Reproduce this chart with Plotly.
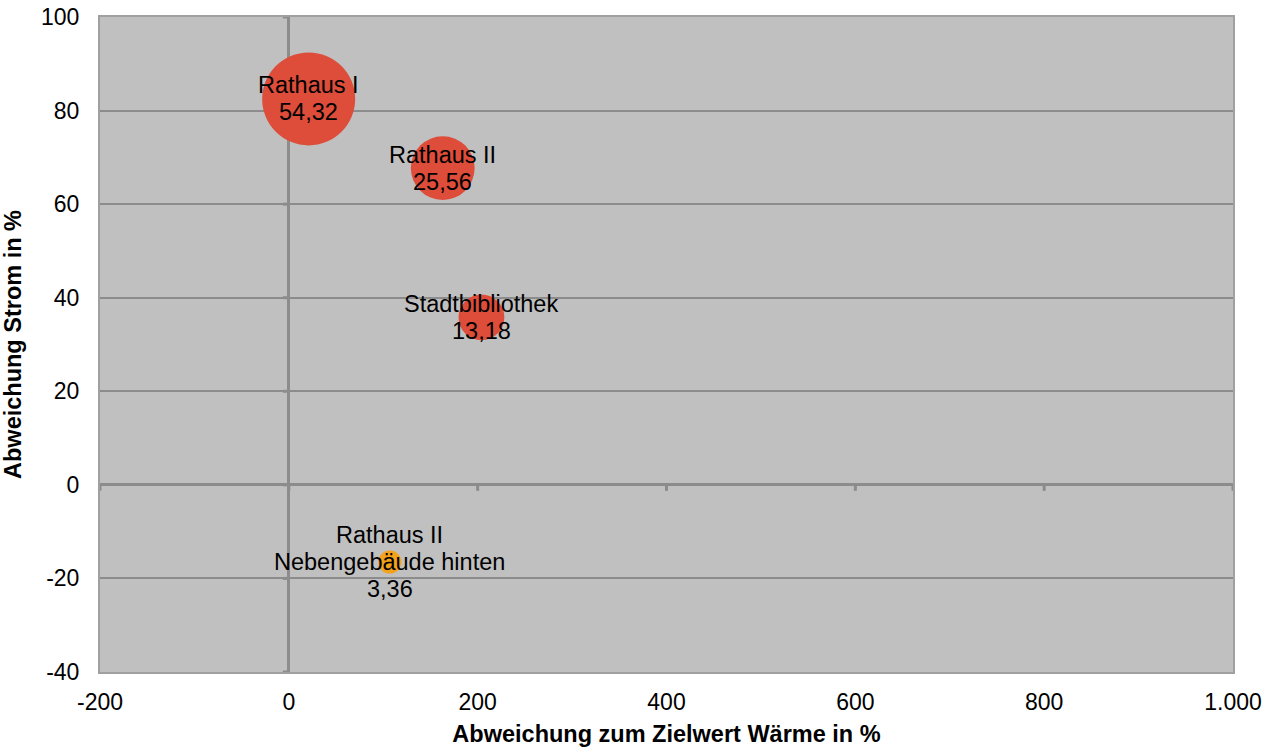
import plotly.graph_objects as go

# Buildings and their deviations
names = ["Rathaus I", "Rathaus II", "Stadtbibliothek", "Rathaus II<br>Nebengebäude hinten"]
waerme = [21, 163, 204, 107]          # deviation heat, %
strom = [82.5, 67.7, 35.8, -16.5]     # deviation electricity, %
groesse = [54.32, 25.56, 13.18, 3.36]  # bubble size value
farben = ["#DE4C3A", "#DE4C3A", "#DE4C3A", "#F4A11B"]

x_ticks = [-200, 0, 200, 400, 600, 800, 1000]
x_ticklabels = ["-200", "0", "200", "400", "600", "800", "1.000"]
y_ticks = [-40, -20, 0, 20, 40, 60, 80, 100]
y_ticklabels = ["-40", "-20", "0", "20", "40", "60", "80", "100"]

FONT = "Liberation Sans, Arial, sans-serif"
max_diam = 93
line_h = 27

fig = go.Figure()
fig.add_trace(go.Scatter(
    x=waerme, y=strom, mode="markers",
    marker=dict(size=groesse, sizemode="area", sizeref=2 * max(groesse) / max_diam ** 2,
                color=farben, opacity=1, line=dict(width=0)),
    hoverinfo="skip", showlegend=False, cliponaxis=False,
))

# data labels: name lines plus the size value, centred on each bubble
annotations = []
for n, xv, yv, g in zip(names, waerme, strom, groesse):
    lines = n.split("<br>") + [f"{g:.2f}".replace(".", ",")]
    k = len(lines)
    for i, t in enumerate(lines):
        annotations.append(dict(
            x=xv, y=yv, xref="x", yref="y", text=t, showarrow=False,
            yshift=((k - 1) / 2 - i) * line_h,
            font=dict(family=FONT, size=23.5, color="#000000"),
        ))

# small tick marks along the zero lines
shapes = []
for v in y_ticks:
    shapes.append(dict(type="line", xref="x", yref="y", xsizemode="pixel", xanchor=0,
                       x0=-6, x1=0, y0=v, y1=v, line=dict(color="#8C8C8C", width=3), layer="below"))
for v in x_ticks:
    shapes.append(dict(type="line", xref="x", yref="y", ysizemode="pixel", yanchor=0,
                       x0=v, x1=v, y0=0, y1=-6, line=dict(color="#8C8C8C", width=3), layer="below"))

fig.update_layout(
    width=1278, height=751,
    margin=dict(l=100, r=45, t=17, b=79),
    paper_bgcolor="#FFFFFF", plot_bgcolor="#C0C0C0",
    font=dict(family=FONT, size=23, color="#000000"),
    shapes=shapes, annotations=annotations,
    xaxis=dict(
        range=[-200, 1000], tickvals=x_ticks, ticktext=x_ticklabels,
        showgrid=False, zeroline=True, zerolinecolor="#8C8C8C", zerolinewidth=3,
        showline=True, linecolor="#A0A0A0", linewidth=2, mirror=True,
        ticks="outside", ticklen=0, ticklabelstandoff=8, tickfont=dict(size=23),
        title=dict(text="<b>Abweichung zum Zielwert Wärme in %</b>", font=dict(size=23.5), standoff=12),
        automargin=False, fixedrange=True,
    ),
    yaxis=dict(
        range=[-40, 100], tickvals=y_ticks, ticktext=y_ticklabels,
        showgrid=True, gridcolor="#8C8C8C", gridwidth=1.5,
        zeroline=True, zerolinecolor="#8C8C8C", zerolinewidth=3,
        showline=True, linecolor="#A0A0A0", linewidth=2, mirror=True,
        ticks="outside", ticklen=0, ticklabelstandoff=14, tickfont=dict(size=23),
        title=dict(text="<b>Abweichung Strom in %</b>", font=dict(size=23.5), standoff=16),
        automargin=False, fixedrange=True,
    ),
)

fig.write_html("out.html")
